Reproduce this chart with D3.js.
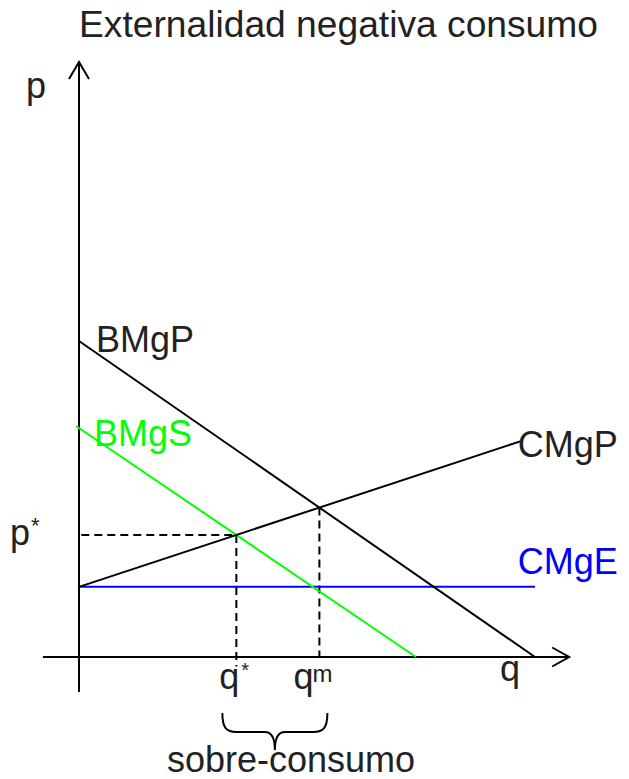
<!DOCTYPE html>
<html>
<head>
<meta charset="utf-8">
<script src="https://cdn.jsdelivr.net/npm/d3@7"></script>
<style>
  html, body { margin: 0; padding: 0; background: #ffffff; }
  svg { display: block; }
  text { font-family: "Liberation Sans", Arial, sans-serif; fill: #222; }
</style>
</head>
<body>
<div id="chart"></div>
<script>
// ---------- data (model units: q horizontal, p vertical) ----------
const bmgp = [[0, 10], [10, 0]];            // private marginal benefit
const bmgs = [[-0.066, 7.31], [7.39, 0]];   // social marginal benefit
const cmgp = [[0, 2.22], [9.71, 6.84]];     // private marginal cost
const cmge = [[0, 2.22], [10, 2.22]];       // external marginal cost
const xAxisExtent = [-0.79, 10.75];
const yAxisExtent = [-1.11, 18.83];
const qStarDashBottom = -0.3;

const title = "Externalidad negativa consumo";
const curveLabels = ["BMgP", "BMgS", "CMgP", "CMgE"];
const axisLabels = ["p", "q"];
const pointLabels = ["p", "q", "q"];
const pointSuper = ["*", "*", "m"];
const braceLabel = "sobre-consumo";

// ---------- setup ----------
const W = 629, H = 779;
const svg = d3.select("#chart").append("svg").attr("width", W).attr("height", H);
svg.append("rect").attr("width", W).attr("height", H).attr("fill", "#fff");

const x = d3.scaleLinear().domain([0, 10]).range([79, 535]);
const y = d3.scaleLinear().domain([0, 10]).range([657, 341]);
const line = d3.line().x(d => x(d[0])).y(d => y(d[1]));

function intersect(a, b) {
  const s1 = (a[1][1] - a[0][1]) / (a[1][0] - a[0][0]);
  const s2 = (b[1][1] - b[0][1]) / (b[1][0] - b[0][0]);
  const c1 = a[0][1] - s1 * a[0][0];
  const c2 = b[0][1] - s2 * b[0][0];
  const q = (c2 - c1) / (s1 - s2);
  return [q, c1 + s1 * q];
}
const star = intersect(bmgs, cmgp);
const mkt = intersect(bmgp, cmgp);

// ---------- title ----------
svg.append("text").attr("x", 338.5).attr("y", 37).attr("text-anchor", "middle")
  .attr("font-size", 37.2).text(title);

// ---------- axes ----------
const axisG = svg.append("g").attr("stroke", "#000").attr("stroke-width", 2).attr("fill", "none");
axisG.append("path").attr("d", line([[0, yAxisExtent[0]], [0, yAxisExtent[1]]]));
axisG.append("path").attr("d", line([[xAxisExtent[0], 0], [xAxisExtent[1], 0]]));
// arrowheads
const vt = [x(0), y(yAxisExtent[1])];
axisG.append("path").attr("d", `M${vt[0]-10},${vt[1]+17} L${vt[0]},${vt[1]} L${vt[0]+10},${vt[1]+17}`);
const ht = [x(xAxisExtent[1]), y(0)];
axisG.append("path").attr("d", `M${ht[0]-17},${ht[1]-9.5} L${ht[0]},${ht[1]} L${ht[0]-17},${ht[1]+9.5}`);

// ---------- dashed guides ----------
const dashG = svg.append("g").attr("stroke", "#000").attr("stroke-width", 2)
  .attr("stroke-dasharray", "8,5").attr("fill", "none");
dashG.append("path").attr("d", line([[0.05, star[1]], star]));
dashG.append("path").attr("d", line([star, [star[0], qStarDashBottom]]));
dashG.append("path").attr("d", line([mkt, [mkt[0], 0]]));

// ---------- curves ----------
svg.append("path").attr("d", line(cmge)).attr("stroke", "#0000ff").attr("stroke-width", 2).attr("fill", "none");
svg.append("path").attr("d", line(bmgs)).attr("stroke", "#00ff00").attr("stroke-width", 2).attr("fill", "none");
svg.append("path").attr("d", line(bmgp)).attr("stroke", "#000").attr("stroke-width", 2).attr("fill", "none");
svg.append("path").attr("d", line(cmgp)).attr("stroke", "#000").attr("stroke-width", 2).attr("fill", "none");

// ---------- curve labels ----------
svg.append("text").attr("x", x(bmgp[0][0]) + 17).attr("y", y(bmgp[0][1]) + 11)
  .attr("font-size", 36).text(curveLabels[0]);
svg.append("text").attr("x", x(0) + 15).attr("y", y(bmgs[0][1]) + 20)
  .attr("font-size", 36).style("fill", "#00ff00").text(curveLabels[1]);
svg.append("text").attr("x", x(cmgp[1][0]) - 4).attr("y", y(cmgp[1][1]) + 16)
  .attr("font-size", 36).text(curveLabels[2]);
svg.append("text").attr("x", x(cmgp[1][0]) - 4).attr("y", y(cmge[1][1]) - 13)
  .attr("font-size", 36).style("fill", "#0000ff").text(curveLabels[3]);

// ---------- axis labels ----------
svg.append("text").attr("x", 26).attr("y", 98).attr("font-size", 36).text(axisLabels[0]);
svg.append("text").attr("x", 500).attr("y", 681).attr("font-size", 36).text(axisLabels[1]);

// ---------- point labels ----------
// p*
svg.append("text").attr("x", 10).attr("y", y(star[1]) + 10).attr("font-size", 36).text(pointLabels[0]);
svg.append("text").attr("x", 31).attr("y", y(star[1]) - 1.5).attr("font-size", 22).text(pointSuper[0]);
// q*
svg.append("text").attr("x", x(star[0]) - 17).attr("y", 689).attr("font-size", 36).text(pointLabels[1]);
svg.append("text").attr("x", x(star[0]) + 5).attr("y", 677).attr("font-size", 20).text(pointSuper[1]);
// q^m
svg.append("text").attr("x", x(mkt[0]) - 26).attr("y", 689).attr("font-size", 36).text(pointLabels[2]);
svg.append("text").attr("x", x(mkt[0]) - 7).attr("y", 682).attr("font-size", 24).text(pointSuper[2]);

// ---------- brace ----------
const bl = x(star[0]) - 14, br = x(mkt[0]) + 8, bm = (bl + br) / 2;
const bTop = 713, bMid = 732, bTip = 750;
svg.append("path")
  .attr("d", `M${bl},${bTop} C${bl},${bMid-4} ${bl+4},${bMid} ${bl+14},${bMid} L${bm-10},${bMid} C${bm-3},${bMid} ${bm},${bMid+6} ${bm},${bTip} C${bm},${bMid+6} ${bm+3},${bMid} ${bm+10},${bMid} L${br-14},${bMid} C${br-4},${bMid} ${br},${bMid-4} ${br},${bTop}`)
  .attr("stroke", "#000").attr("stroke-width", 2).attr("fill", "none");
svg.append("text").attr("x", 167).attr("y", 772).attr("font-size", 36).text(braceLabel);
</script>
</body>
</html>
